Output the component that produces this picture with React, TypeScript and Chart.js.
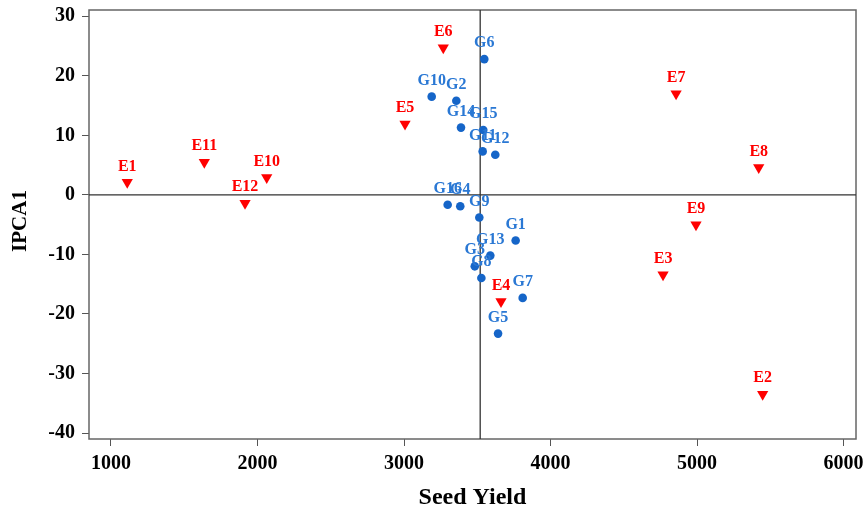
import React, { useEffect, useRef } from "react";
import { Chart, registerables } from "chart.js";

Chart.register(...registerables);

const envNames = ["E1", "E2", "E3", "E4", "E5", "E6", "E7", "E8", "E9", "E10", "E11", "E12"];
const envYield = [1111, 5448, 4768, 3662, 3007, 3268, 4857, 5421, 4993, 2063, 1637, 1915];
const envIpca1 = [2.1, -33.5, -13.4, -17.9, 11.9, 24.7, 17.0, 4.6, -5.0, 2.9, 5.5, -1.4];

const genNames = ["G1", "G2", "G3", "G4", "G5", "G6", "G7", "G8", "G9", "G10", "G11", "G12", "G13", "G14", "G15", "G16"];
const genYield = [3762, 3357, 3483, 3384, 3642, 3548, 3810, 3528, 3514, 3189, 3537, 3623, 3589, 3389, 3541, 3298];
const genIpca1 = [-7.65, 15.8, -12.0, -1.9, -23.3, 22.8, -17.3, -13.95, -3.8, 16.5, 7.3, 6.75, -10.2, 11.3, 10.9, -1.67];

const xTicks = [1000, 2000, 3000, 4000, 5000, 6000];
const yTicks = [-40, -30, -20, -10, 0, 10, 20, 30];
const meanYield = 3520;

const FONT = "'Liberation Serif', 'Times New Roman', serif";

export default function App() {
  const ref = useRef<HTMLCanvasElement | null>(null);

  useEffect(() => {
    if (!ref.current) return;

    const overlay = {
      id: "overlay",
      beforeDatasetsDraw(chart: any) {
        const { ctx, chartArea: a, scales } = chart;
        ctx.save();
        ctx.strokeStyle = "#666";
        ctx.lineWidth = 1.5;
        ctx.strokeRect(a.left, a.top, a.right - a.left, a.bottom - a.top);
        ctx.strokeStyle = "#333";
        ctx.lineWidth = 1.3;
        const x0 = scales.x.getPixelForValue(meanYield);
        const y0 = scales.y.getPixelForValue(0);
        ctx.beginPath();
        ctx.moveTo(x0, a.top);
        ctx.lineTo(x0, a.bottom);
        ctx.moveTo(a.left, y0);
        ctx.lineTo(a.right, y0);
        ctx.stroke();
        ctx.restore();
      },
      afterDatasetsDraw(chart: any) {
        const { ctx } = chart;
        ctx.save();
        ctx.font = `bold 16px ${FONT}`;
        ctx.textAlign = "center";
        ctx.textBaseline = "middle";
        const draw = (dsIndex: number, names: string[], color: string) => {
          const meta = chart.getDatasetMeta(dsIndex);
          ctx.fillStyle = color;
          meta.data.forEach((el: any, i: number) => {
            ctx.fillText(names[i], el.x, el.y - 16);
          });
        };
        draw(0, envNames, "#ff0000");
        draw(1, genNames, "#2a78d4");
        ctx.fillStyle = "#000";
        ctx.font = `bold 24px ${FONT}`;
        const a = chart.chartArea;
        ctx.fillText("Seed Yield", (a.left + a.right) / 2, 498);
        ctx.save();
        ctx.translate(21, 221);
        ctx.rotate(-Math.PI / 2);
        ctx.font = `bold 21px ${FONT}`;
        ctx.fillText("IPCA1", 0, 0);
        ctx.restore();
        ctx.restore();
      },
    };

    const noPad = (s: any) => {
      s.paddingLeft = 0;
      s.paddingRight = 0;
      s.paddingTop = 0;
      s.paddingBottom = 0;
    };

    const chart = new Chart(ref.current, {
      type: "scatter",
      data: {
        datasets: [
          {
            label: "Environments",
            data: envYield.map((x, i) => ({ x, y: envIpca1[i] })),
            pointStyle: "triangle",
            rotation: 180,
            pointRadius: 6.5,
            backgroundColor: "#ff0000",
            borderColor: "#ff0000",
            borderWidth: 0,
          },
          {
            label: "Genotypes",
            data: genYield.map((x, i) => ({ x, y: genIpca1[i] })),
            pointStyle: "circle",
            pointRadius: 4.3,
            backgroundColor: "#1565c8",
            borderColor: "#1565c8",
            borderWidth: 0,
          },
        ],
      },
      options: {
        animation: false,
        responsive: true,
        maintainAspectRatio: false,
        layout: { padding: { top: 10, right: 8, left: 0, bottom: 0 } },
        plugins: { legend: { display: false }, tooltip: { enabled: false } },
        scales: {
          x: {
            type: "linear",
            min: 850,
            max: 6085,
            afterBuildTicks: (s: any) => {
              s.ticks = xTicks.map((v) => ({ value: v }));
            },
            afterFit: (s: any) => {
              s.height = 73;
              noPad(s);
            },
            grid: { drawOnChartArea: false, drawTicks: true, tickLength: 7, color: "#555" },
            border: { display: false },
            ticks: {
              autoSkip: false,
              maxRotation: 0,
              padding: 6,
              color: "#000",
              font: { family: FONT, size: 20, weight: "bold" },
              callback: (v: any) => String(v),
            },
          },
          y: {
            type: "linear",
            min: -41,
            max: 31.05,
            afterBuildTicks: (s: any) => {
              s.ticks = yTicks.map((v) => ({ value: v }));
            },
            afterFit: (s: any) => {
              s.width = 89;
              noPad(s);
            },
            grid: { drawOnChartArea: false, drawTicks: true, tickLength: 7, color: "#555" },
            border: { display: false },
            ticks: {
              autoSkip: false,
              padding: 7,
              color: "#000",
              font: { family: FONT, size: 20, weight: "bold" },
              callback: (v: any) => String(v),
            },
          },
        },
      },
      plugins: [overlay],
    });

    return () => chart.destroy();
  }, []);

  return (
    <div style={{ position: "fixed", left: 0, top: 0, width: 864, height: 512, background: "#fff" }}>
      <canvas ref={ref} />
    </div>
  );
}
